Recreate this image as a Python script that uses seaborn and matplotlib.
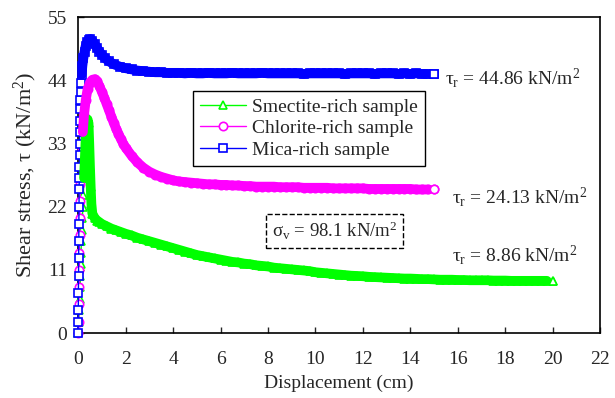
import matplotlib
matplotlib.use('Agg')
import matplotlib.pyplot as plt
import seaborn as sns

sns.set_style('ticks')
plt.rcParams['font.family'] = ['Liberation Serif', 'DejaVu Serif']
plt.rcParams['mathtext.fontset'] = 'custom'
plt.rcParams['mathtext.rm'] = 'Liberation Serif'
plt.rcParams['mathtext.it'] = 'Liberation Serif:italic'

# ---- data ----
mica_x = [0, 0, 0.01, 0.01, 0.02, 0.02, 0.03, 0.03, 0.04, 0.04, 0.05, 0.05, 0.06, 0.06,
          0.07, 0.08, 0.09, 0.1, 0.11, 0.13, 0.15, 0.18, 0.22, 0.27, 0.32, 0.38, 0.45,
          0.52, 0.6, 0.7, 0.8, 0.9, 1.0, 1.15, 1.3, 1.5, 1.75, 2.0, 2.25, 2.5, 2.75, 3.0,
          3.25, 3.5, 3.75, 4.0, 4.25, 4.5, 4.75, 5.0, 5.25, 5.5, 5.75, 6.0, 6.25, 6.5,
          6.75, 7.0, 7.25, 7.5, 7.75, 8.0, 8.25, 8.5, 8.75, 9.0, 9.25, 9.5, 9.75, 10.0,
          10.25, 10.5, 10.75, 11.0, 11.25, 11.5, 11.75, 12.0, 12.25, 12.5, 12.75, 13.0,
          13.25, 13.5, 13.75, 14.0, 14.25, 14.5, 14.75, 15.0]
mica_y = [0, 2, 4, 7, 10, 13, 16, 19, 22, 25, 27, 29, 31, 33,
          35, 37, 39, 40.5, 42, 43.5, 45, 46.5, 47.8, 49.0, 50.0, 50.7, 51.1,
          51.2, 50.9, 50.3, 49.6, 49.0, 48.4, 47.8, 47.3, 46.8, 46.4, 46.1, 45.9, 45.7, 45.6, 45.5,
          45.4, 45.4, 45.3, 45.3, 45.3, 45.2, 45.3, 45.2, 45.2, 45.3, 45.2, 45.2, 45.2, 45.3,
          45.2, 45.2, 45.2, 45.2, 45.3, 45.2, 45.2, 45.2, 45.2, 45.2, 45.2, 45.1, 45.2, 45.2,
          45.2, 45.2, 45.2, 45.2, 45.1, 45.2, 45.2, 45.2, 45.2, 45.1, 45.2, 45.2,
          45.2, 45.1, 45.2, 45.1, 45.2, 45.1, 45.1, 45.1]

chlorite_x = [0, 0.02, 0.03, 0.04, 0.05, 0.05, 0.06, 0.07, 0.08, 0.1, 0.12, 0.15, 0.2,
              0.25, 0.32, 0.4, 0.5, 0.6, 0.7, 0.8, 0.9, 1.0, 1.1, 1.2, 1.3, 1.4, 1.5, 1.6,
              1.7, 1.8, 1.9, 2.0, 2.25, 2.5, 2.75, 3.0, 3.25, 3.5, 3.75, 4.0, 4.25, 4.5,
              4.75, 5.0, 5.25, 5.5, 5.75, 6.0, 6.25, 6.5, 6.75, 7.0, 7.25, 7.5, 7.75, 8.0,
              8.25, 8.5, 8.75, 9.0, 9.25, 9.5, 9.75, 10.0, 10.25, 10.5, 10.75, 11.0, 11.25,
              11.5, 11.75, 12.0, 12.25, 12.5, 12.75, 13.0, 13.25, 13.5, 13.75, 14.0, 14.25,
              14.5, 14.75, 15.0]
chlorite_y = [0, 2, 5, 8, 11, 14, 17, 20, 23, 26, 29, 32, 35,
              38, 40.5, 42.5, 43.6, 44.1, 44.2, 43.8, 43.0, 42.0, 41.0, 39.9, 38.8, 37.7, 36.6, 35.6,
              34.7, 33.8, 33.0, 32.3, 30.9, 29.7, 28.8, 28.1, 27.6, 27.2, 26.9, 26.6, 26.4, 26.3,
              26.2, 26.1, 26.0, 25.9, 25.9, 25.8, 25.8, 25.7, 25.7, 25.6, 25.6, 25.5, 25.5, 25.5,
              25.5, 25.4, 25.4, 25.4, 25.4, 25.3, 25.3, 25.3, 25.3, 25.3, 25.2, 25.2, 25.2,
              25.2, 25.2, 25.2, 25.1, 25.1, 25.1, 25.1, 25.1, 25.1, 25.1, 25.1, 25.0,
              25.0, 25.0, 25.0]

smectite_x = [0, 0.03, 0.05, 0.07, 0.08, 0.1, 0.11, 0.12, 0.14, 0.16, 0.18, 0.2, 0.22,
              0.25, 0.28, 0.31, 0.35, 0.4, 0.44, 0.47, 0.5, 0.53, 0.56, 0.6, 0.7, 0.8, 0.9,
              1.0, 1.2, 1.4, 1.6, 1.8, 2.0, 2.25, 2.5, 2.75, 3.0, 3.25, 3.5, 3.75, 4.0, 4.25,
              4.5, 4.75, 5.0, 5.25, 5.5, 5.75, 6.0, 6.25, 6.5, 6.75, 7.0, 7.25, 7.5, 7.75,
              8.0, 8.25, 8.5, 8.75, 9.0, 9.25, 9.5, 9.75, 10.0, 10.25, 10.5, 10.75, 11.0,
              11.25, 11.5, 11.75, 12.0, 12.25, 12.5, 12.75, 13.0, 13.25, 13.5, 13.75, 14.0,
              14.25, 14.5, 14.75, 15.0, 15.25, 15.5, 15.75, 16.0, 16.25, 16.5, 16.75, 17.0,
              17.25, 17.5, 17.75, 18.0, 18.25, 18.5, 18.75, 19.0, 19.25, 19.5, 19.75, 20.0]
smectite_y = [0, 2, 4, 6, 8, 10, 12, 14, 16, 18, 20, 22, 24,
              27, 30, 33, 35.5, 37.2, 36.5, 33, 29, 25.5, 22.5, 20.8, 20.0, 19.6, 19.3,
              19.0, 18.6, 18.2, 17.9, 17.6, 17.3, 17.0, 16.6, 16.3, 16.0, 15.7, 15.4, 15.1, 14.8, 14.5,
              14.2, 13.9, 13.6, 13.4, 13.2, 13.0, 12.8, 12.6, 12.4, 12.3, 12.1, 12.0, 11.8, 11.7,
              11.6, 11.4, 11.3, 11.2, 11.1, 11.0, 10.9, 10.8, 10.6, 10.5, 10.4, 10.3, 10.2,
              10.1, 10.0, 9.95, 9.9, 9.8, 9.75, 9.7, 9.65, 9.6, 9.55, 9.5, 9.5,
              9.45, 9.4, 9.4, 9.35, 9.3, 9.3, 9.3, 9.25, 9.25, 9.2, 9.2, 9.2,
              9.2, 9.15, 9.15, 9.15, 9.1, 9.1, 9.1, 9.1, 9.1, 9.1, 9.1, 9.1]

labels = ['Smectite-rich sample', 'Chlorite-rich sample', 'Mica-rich sample']
colors = ['#00ff00', '#ff00ff', '#0000ff']
markers = ['^', 'o', 's']
band_from = [0.25, 0.2, 0.15]   # where the recorded points get so dense they merge into a band
residual_text = ['τ$_\\mathrm{r}$ = 8.86 kN/m$^2$', 'τ$_\\mathrm{r}$ = 24.13 kN/m$^2$',
                 'τ$_\\mathrm{r}$ = 44.86 kN/m$^2$']

fig, ax = plt.subplots(figsize=(6.15, 3.98), dpi=100)
fig.subplots_adjust(left=0.127, right=0.976, bottom=0.163, top=0.957)

series = [(smectite_x, smectite_y), (chlorite_x, chlorite_y), (mica_x, mica_y)]
for (xs, ys), lab, c, m, bf in zip(series, labels, colors, markers, band_from):
    # open markers + thin line (also the legend entry)
    sns.lineplot(x=xs, y=ys, ax=ax, color=c, marker=m, markersize=6,
                 markerfacecolor='white', markeredgecolor=c, markeredgewidth=1.2,
                 linewidth=1, label=lab, sort=False, estimator=None,
                 clip_on=False, zorder=3)
    # dense part drawn as a thick band
    dx = [x for x in xs if x >= bf][:-1]
    dy = [y for x, y in zip(xs, ys) if x >= bf][:-1]
    sns.lineplot(x=dx, y=dy, ax=ax, color=c, linewidth=7, sort=False, estimator=None,
                 legend=False, zorder=4, solid_capstyle='round', solid_joinstyle='round')
    # last point stays an open marker
    sns.lineplot(x=xs[-1:], y=ys[-1:], ax=ax, color=c, marker=m, markersize=6,
                 markerfacecolor='white', markeredgecolor=c, markeredgewidth=1.2,
                 legend=False, estimator=None, zorder=5)

ax.set_xlim(0, 22)
ax.set_ylim(0, 55)
ax.set_xticks(range(0, 23, 2))
ax.set_yticks([0, 11, 22, 33, 44, 55])
ax.tick_params(direction='in', length=4, width=1, labelsize=14, pad=8)
ax.tick_params(axis='x', pad=13)
for sp in ax.spines.values():
    sp.set_linewidth(1.2)
    sp.set_color('black')

ax.set_xlabel('Displacement (cm)', fontsize=14, labelpad=5)
ax.set_ylabel('Shear stress, τ (kN/m$^2$)', fontsize=16, labelpad=6)

leg = ax.legend(loc='upper left', bbox_to_anchor=(0.22, 0.765), fontsize=14,
                frameon=True, fancybox=False, framealpha=1, edgecolor='black',
                handlelength=2.4, handletextpad=0.3, borderpad=0.35, labelspacing=0.2,
                borderaxespad=0)
leg.get_frame().set_linewidth(1)

ax.text(15.75, 13.6, residual_text[0], fontsize=14, va='center')
ax.text(15.75, 23.6, residual_text[1], fontsize=14, va='center')
ax.text(15.45, 44.4, residual_text[2], fontsize=14, va='center')

ax.text(10.8, 17.8, 'σ$_\\mathrm{v}$ = 98.1 kN/m$^2$', fontsize=13.5, va='center', ha='center',
        bbox=dict(boxstyle='square,pad=0.3', facecolor='white', edgecolor='black',
                  linestyle='--', linewidth=1))

fig.savefig('out.png', dpi=100)
